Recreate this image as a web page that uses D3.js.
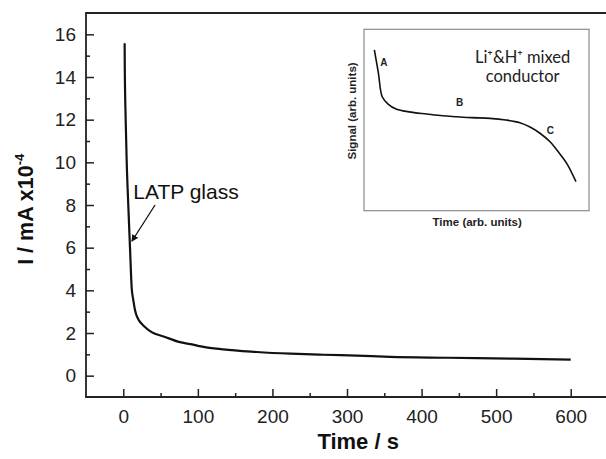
<!DOCTYPE html>
<html>
<head>
<meta charset="utf-8">
<script src="https://cdn.jsdelivr.net/npm/d3@7"></script>
<style>
  html, body { margin: 0; padding: 0; background: #fff; }
  svg { display: block; }
</style>
</head>
<body>
<div id="chart"></div>
<script>
// ===== LATP glass current decay (main) + mixed conductor sketch (inset) =====

// main curve: time (s) and current (mA x1e-4)
const timeS = [1.8, 2, 3.2, 4.6, 6.7, 9, 11.3, 13.4, 15.7, 18, 21, 25, 29, 38, 54, 76, 90, 100, 134, 179, 224, 268, 313, 358, 434, 523, 600];
const currentI = [15.58, 14.53, 12.0, 10.0, 8.0, 6.0, 4.1, 3.55, 3.08, 2.8, 2.59, 2.42, 2.28, 2.04, 1.84, 1.57, 1.48, 1.40, 1.23, 1.11, 1.03, 0.98, 0.94, 0.88, 0.84, 0.80, 0.75];

// axis ticks
const xMajor = [0, 100, 200, 300, 400, 500, 600];
const xMinor = [50, 150, 250, 350, 450, 550];
const yMajor = [0, 2, 4, 6, 8, 10, 12, 14, 16];
const yMinor = [1, 3, 5, 7, 9, 11, 13, 15];

// inset sketch (arbitrary units, 0-100 both ways)
const insetX = [4.6, 6.4, 8.1, 10.7, 14.5, 20, 27.9, 35, 41.2, 48, 56, 63, 69.3, 74, 78.2, 82.7, 86, 90.1, 94.2];
const insetY = [88.6, 75.9, 62.8, 58.8, 55.9, 54.5, 53.3, 52.3, 51.8, 51.3, 50.9, 50, 48.5, 46, 42.7, 38, 33, 26.1, 16];
const insetMarks = [
  { label: 'A', x: 8.8, y: 80 },
  { label: 'B', x: 42.5, y: 57.5 },
  { label: 'C', x: 82.8, y: 42.5 }
];

const W = 606, H = 459;
const margin = { top: 13, right: -2, bottom: 62, left: 86 };
const font = "'Liberation Sans', Arial, sans-serif";

const svg = d3.select('#chart').append('svg')
  .attr('width', W)
  .attr('height', H);

svg.append('rect').attr('width', W).attr('height', H).attr('fill', '#fff');

const x = d3.scaleLinear().domain([-50, 650]).range([margin.left, W - margin.right]);
const y = d3.scaleLinear().domain([-1, 17]).range([H - margin.bottom, margin.top]);

const defs = svg.append('defs');
defs.append('marker')
  .attr('id', 'arrow')
  .attr('viewBox', '0 0 10 10')
  .attr('refX', 9).attr('refY', 5)
  .attr('markerWidth', 7).attr('markerHeight', 7)
  .attr('markerUnits', 'userSpaceOnUse')
  .attr('orient', 'auto')
  .append('path')
  .attr('d', 'M0,0 L10,5 L0,10 z')
  .attr('fill', '#111');

// axes, ticks pointing inward
svg.append('g')
  .attr('transform', `translate(0,${y(-1)})`)
  .call(d3.axisBottom(x).tickValues(xMajor).tickSize(-8).tickPadding(12.5).tickSizeOuter(0));
svg.append('g')
  .attr('transform', `translate(0,${y(-1)})`)
  .call(d3.axisBottom(x).tickValues(xMinor).tickSize(-4).tickFormat('').tickSizeOuter(0));

svg.append('g')
  .attr('transform', `translate(${x(-50)},0)`)
  .call(d3.axisLeft(y).tickValues(yMajor).tickSize(-8).tickPadding(10).tickSizeOuter(0));
svg.append('g')
  .attr('transform', `translate(${x(-50)},0)`)
  .call(d3.axisLeft(y).tickValues(yMinor).tickSize(-4).tickFormat('').tickSizeOuter(0));

svg.selectAll('.domain').remove();
svg.selectAll('.tick line').attr('stroke', '#222').attr('stroke-width', 1.5);
svg.selectAll('.tick text')
  .attr('fill', '#222')
  .style('font-family', font)
  .style('font-size', '19px');

// frame (right side runs off the picture, as in the original)
svg.append('path')
  .attr('d', `M${W + 5},${y(17)} H${x(-50)} V${y(-1)} H${W + 5}`)
  .attr('fill', 'none')
  .attr('stroke', '#222')
  .attr('stroke-width', 1.8);

// axis titles
svg.append('text')
  .attr('x', x(315)).attr('y', 449)
  .attr('text-anchor', 'middle')
  .style('font-family', font).style('font-size', '22px').style('font-weight', 'bold')
  .attr('fill', '#111')
  .text('Time / s');

const yTitle = svg.append('text')
  .attr('transform', `translate(33,${y(7.8)}) rotate(-90)`)
  .attr('text-anchor', 'middle')
  .style('font-family', font).style('font-size', '21.5px').style('font-weight', 'bold')
  .attr('fill', '#111');
yTitle.append('tspan').text('I / mA x10');
yTitle.append('tspan').attr('dy', -9).style('font-size', '13px').text('-4');

// main curve
const pts = timeS.map((t, i) => [t, currentI[i]]);
svg.append('path')
  .datum(pts)
  .attr('fill', 'none')
  .attr('stroke', '#111')
  .attr('stroke-width', 2.2)
  .attr('stroke-linejoin', 'round')
  .attr('d', d3.line().x(d => x(d[0])).y(d => y(d[1])).curve(d3.curveMonotoneX));

// annotation
svg.append('text')
  .attr('x', x(13.4)).attr('y', y(8.3))
  .style('font-family', font).style('font-size', '21px')
  .attr('fill', '#111')
  .text('LATP glass');
svg.append('line')
  .attr('x1', x(42.6)).attr('y1', y(8.0))
  .attr('x2', x(11.5)).attr('y2', y(6.3))
  .attr('stroke', '#111').attr('stroke-width', 1.3)
  .attr('marker-end', 'url(#arrow)');

// ---- inset ----
const ix = d3.scaleLinear().domain([0, 100]).range([364, 589]);
const iy = d3.scaleLinear().domain([0, 100]).range([210.7, 29.3]);

svg.append('rect')
  .attr('x', ix(0)).attr('y', iy(100))
  .attr('width', ix(100) - ix(0)).attr('height', iy(0) - iy(100))
  .attr('fill', '#fff')
  .attr('stroke', '#8a8a8a')
  .attr('stroke-width', 1.2);

svg.append('path')
  .datum(insetX.map((v, i) => [v, insetY[i]]))
  .attr('fill', 'none')
  .attr('stroke', '#111')
  .attr('stroke-width', 1.6)
  .attr('d', d3.line().x(d => ix(d[0])).y(d => iy(d[1])).curve(d3.curveCatmullRom.alpha(0.5)));

svg.selectAll('.mark')
  .data(insetMarks)
  .enter().append('text')
  .attr('x', d => ix(d.x)).attr('y', d => iy(d.y))
  .attr('text-anchor', 'middle')
  .style('font-family', font).style('font-size', '10px').style('font-weight', 'bold')
  .attr('fill', '#222')
  .text(d => d.label);

svg.append('text')
  .attr('x', ix(70.5)).attr('y', 62.5)
  .attr('text-anchor', 'middle')
  .style('font-family', "Lato, 'Open Sans', 'DejaVu Sans', sans-serif").style('font-size', '16.5px')
  .attr('fill', '#222')
  .text('Li\u207A&H\u207A mixed');
svg.append('text')
  .attr('x', ix(70.5)).attr('y', 81.5)
  .attr('text-anchor', 'middle')
  .style('font-family', "Lato, 'Open Sans', sans-serif").style('font-size', '16.5px')
  .attr('fill', '#222')
  .text('conductor');

svg.append('text')
  .attr('x', ix(50.3)).attr('y', 226)
  .attr('text-anchor', 'middle')
  .style('font-family', font).style('font-size', '11.5px').style('font-weight', 'bold')
  .attr('fill', '#222')
  .text('Time (arb. units)');

svg.append('text')
  .attr('transform', `translate(355.5,${iy(55)}) rotate(-90)`)
  .attr('text-anchor', 'middle')
  .style('font-family', font).style('font-size', '11.5px').style('font-weight', 'bold')
  .attr('fill', '#222')
  .text('Signal (arb. units)');
</script>
</body>
</html>
